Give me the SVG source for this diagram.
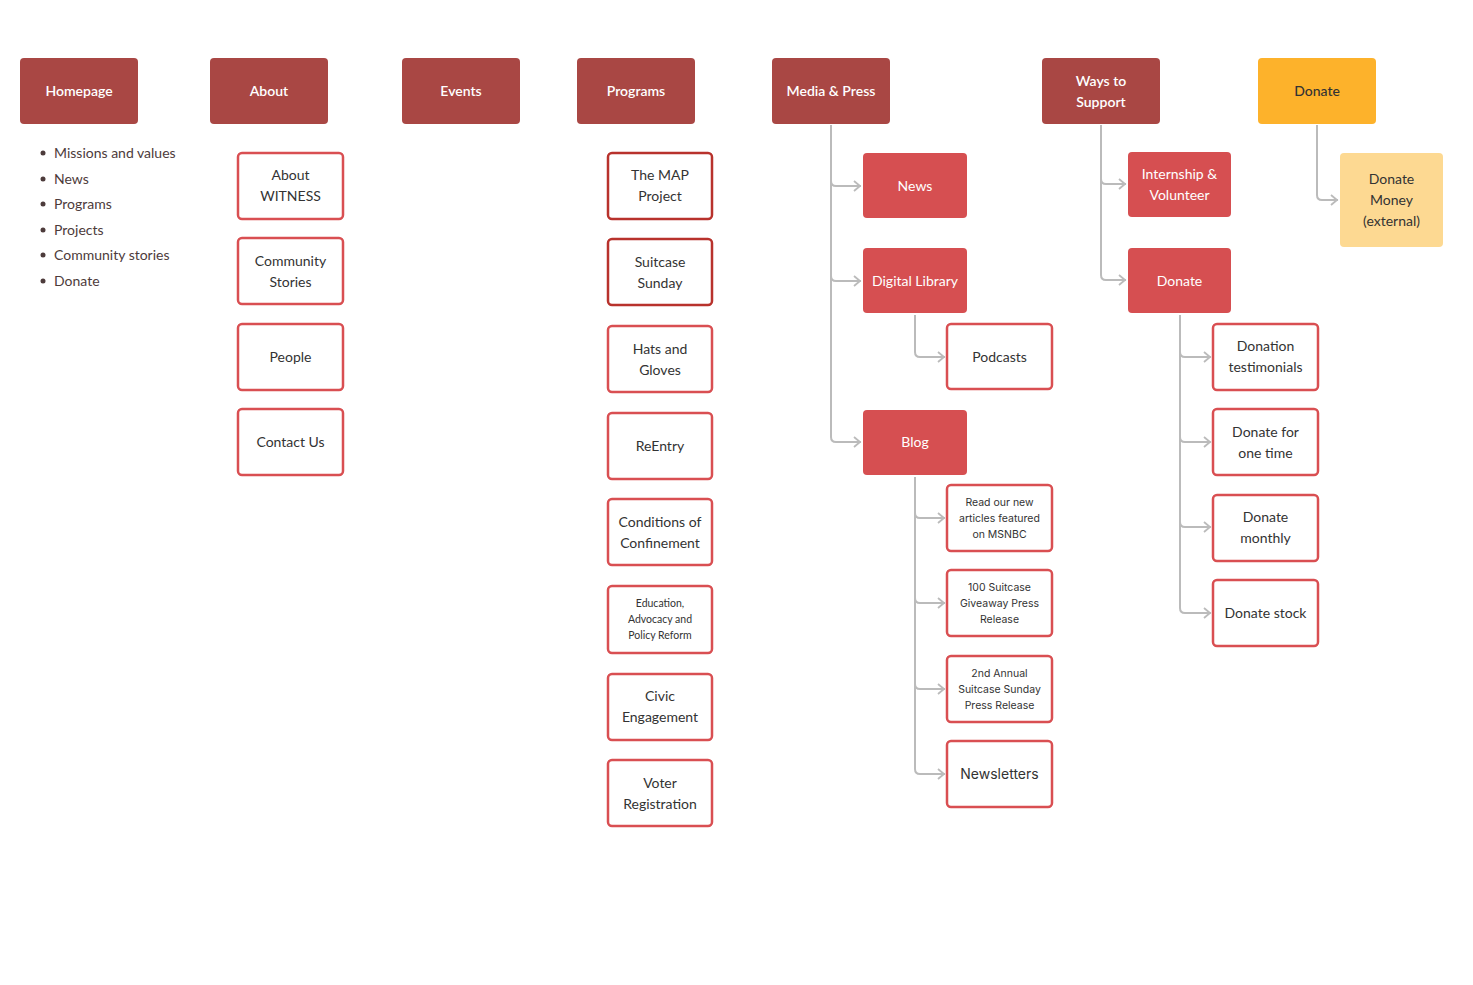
<svg xmlns="http://www.w3.org/2000/svg" width="1473" height="985" viewBox="0 0 1473 985">
<defs>
<style>
.top{fill:#a94744;}
.topt{font-family:Lato,"Liberation Sans",sans-serif;font-size:14px;font-weight:600;fill:#ffffff;text-anchor:middle;}
.sub{fill:#d64f51;}
.subt{font-family:Lato,"Liberation Sans",sans-serif;font-size:14px;fill:#ffffff;text-anchor:middle;}
.box{fill:#ffffff;stroke:#d94f52;stroke-width:2.5;}
.boxd{fill:#ffffff;stroke:#b8322c;stroke-width:2.5;}
.bt{font-family:Lato,"Liberation Sans",sans-serif;font-size:14px;fill:#333333;text-anchor:middle;}
.st{font-family:Lato,"Liberation Sans",sans-serif;font-size:10.5px;fill:#333333;text-anchor:middle;}
.it{font-family:Inter,"Liberation Sans",sans-serif;font-size:10.5px;fill:#333333;text-anchor:middle;}
.bl{font-family:Lato,"Liberation Sans",sans-serif;font-size:14px;fill:#4d3b3b;}
.conn{fill:none;stroke:#bbbbbb;stroke-width:2;}
</style>
<marker id="arr" viewBox="0 0 10 12" refX="9" refY="6" markerWidth="10" markerHeight="12" markerUnits="userSpaceOnUse" orient="auto">
<path d="M2,1 L8,6 L2,11" fill="none" stroke="#bbbbbb" stroke-width="1.8"/>
</marker>
</defs>
<rect width="1473" height="985" fill="#ffffff"/>

<g id="connectors">
<path class="conn" marker-end="url(#arr)" d="M831,125 V181 Q831,186 836,186 H861"/>
<path class="conn" marker-end="url(#arr)" d="M831,125 V276 Q831,281 836,281 H861"/>
<path class="conn" marker-end="url(#arr)" d="M831,125 V437 Q831,442 836,442 H861"/>
<path class="conn" marker-end="url(#arr)" d="M915,315 V352 Q915,357 920,357 H945"/>
<path class="conn" marker-end="url(#arr)" d="M915,477 V513 Q915,518 920,518 H945"/>
<path class="conn" marker-end="url(#arr)" d="M915,477 V598 Q915,603 920,603 H945"/>
<path class="conn" marker-end="url(#arr)" d="M915,477 V684 Q915,689 920,689 H945"/>
<path class="conn" marker-end="url(#arr)" d="M915,477 V769 Q915,774 920,774 H945"/>
<path class="conn" marker-end="url(#arr)" d="M1101,125 V179 Q1101,184 1106,184 H1126"/>
<path class="conn" marker-end="url(#arr)" d="M1101,125 V275 Q1101,280 1106,280 H1126"/>
<path class="conn" marker-end="url(#arr)" d="M1180,315 V352 Q1180,357 1185,357 H1211"/>
<path class="conn" marker-end="url(#arr)" d="M1180,315 V437 Q1180,442 1185,442 H1211"/>
<path class="conn" marker-end="url(#arr)" d="M1180,315 V522 Q1180,527 1185,527 H1211"/>
<path class="conn" marker-end="url(#arr)" d="M1180,315 V608 Q1180,613 1185,613 H1211"/>
<path class="conn" marker-end="url(#arr)" d="M1317,125 V195 Q1317,200 1322,200 H1338"/>
</g>

<g id="homepage"><rect class="top" x="20" y="58" width="118" height="66" rx="4"/><text class="topt" x="79" y="96">Homepage</text></g>
<g id="about"><rect class="top" x="210" y="58" width="118" height="66" rx="4"/><text class="topt" x="269" y="96">About</text></g>
<g id="events"><rect class="top" x="402" y="58" width="118" height="66" rx="4"/><text class="topt" x="461" y="96">Events</text></g>
<g id="programs"><rect class="top" x="577" y="58" width="118" height="66" rx="4"/><text class="topt" x="636" y="96">Programs</text></g>
<g id="media"><rect class="top" x="772" y="58" width="118" height="66" rx="4"/><text class="topt" x="831" y="96">Media &amp; Press</text></g>
<g id="ways"><rect class="top" x="1042" y="58" width="118" height="66" rx="4"/><text class="topt" x="1101" y="86">Ways to</text><text class="topt" x="1101" y="107">Support</text></g>
<g id="donate-top"><rect x="1258" y="58" width="118" height="66" rx="4" fill="#fdb22b"/><text class="topt" x="1317" y="96" style="fill:#333333;font-weight:500">Donate</text></g>

<g id="homepage-list">
<circle cx="43" cy="153" r="2.5" fill="#4d3b3b"/><text class="bl" x="54" y="158">Missions and values</text>
<circle cx="43" cy="179" r="2.5" fill="#4d3b3b"/><text class="bl" x="54" y="184">News</text>
<circle cx="43" cy="204" r="2.5" fill="#4d3b3b"/><text class="bl" x="54" y="209">Programs</text>
<circle cx="43" cy="230" r="2.5" fill="#4d3b3b"/><text class="bl" x="54" y="235">Projects</text>
<circle cx="43" cy="255" r="2.5" fill="#4d3b3b"/><text class="bl" x="54" y="260">Community stories</text>
<circle cx="43" cy="281" r="2.5" fill="#4d3b3b"/><text class="bl" x="54" y="286">Donate</text>
</g>

<g id="about-witness"><rect class="box" x="238" y="153" width="105" height="66" rx="4"/><text class="bt" x="290.5" y="180">About</text><text class="bt" x="290.5" y="201">WITNESS</text></g>
<g id="community-stories"><rect class="box" x="238" y="238" width="105" height="66" rx="4"/><text class="bt" x="290.5" y="266">Community</text><text class="bt" x="290.5" y="287">Stories</text></g>
<g id="people"><rect class="box" x="238" y="324" width="105" height="66" rx="4"/><text class="bt" x="290.5" y="362">People</text></g>
<g id="contact"><rect class="box" x="238" y="409" width="105" height="66" rx="4"/><text class="bt" x="290.5" y="447">Contact Us</text></g>

<g id="map-project"><rect class="boxd" x="608" y="153" width="104" height="66" rx="4"/><text class="bt" x="660" y="180">The MAP</text><text class="bt" x="660" y="201">Project</text></g>
<g id="suitcase-sunday"><rect class="boxd" x="608" y="239" width="104" height="66" rx="4"/><text class="bt" x="660" y="267">Suitcase</text><text class="bt" x="660" y="288">Sunday</text></g>
<g id="hats"><rect class="box" x="608" y="326" width="104" height="66" rx="4"/><text class="bt" x="660" y="354">Hats and</text><text class="bt" x="660" y="375">Gloves</text></g>
<g id="reentry"><rect class="box" x="608" y="413" width="104" height="66" rx="4"/><text class="bt" x="660" y="451">ReEntry</text></g>
<g id="conditions"><rect class="box" x="608" y="499" width="104" height="66" rx="4"/><text class="bt" x="660" y="527">Conditions of</text><text class="bt" x="660" y="548">Confinement</text></g>
<g id="education"><rect class="box" x="608" y="586" width="104" height="67" rx="4"/><text class="st" x="660" y="607">Education,</text><text class="st" x="660" y="623">Advocacy and</text><text class="st" x="660" y="639">Policy Reform</text></g>
<g id="civic"><rect class="box" x="608" y="674" width="104" height="66" rx="4"/><text class="bt" x="660" y="701">Civic</text><text class="bt" x="660" y="722">Engagement</text></g>
<g id="voter"><rect class="box" x="608" y="760" width="104" height="66" rx="4"/><text class="bt" x="660" y="788">Voter</text><text class="bt" x="660" y="809">Registration</text></g>

<g id="news"><rect class="sub" x="863" y="153" width="104" height="65" rx="4"/><text class="subt" x="915" y="191">News</text></g>
<g id="digital-library"><rect class="sub" x="863" y="248" width="104" height="65" rx="4"/><text class="subt" x="915" y="286">Digital Library</text></g>
<g id="podcasts"><rect class="box" x="947" y="324" width="105" height="65" rx="4"/><text class="bt" x="999.5" y="362">Podcasts</text></g>
<g id="blog"><rect class="sub" x="863" y="410" width="104" height="65" rx="4"/><text class="subt" x="915" y="447">Blog</text></g>
<g id="msnbc"><rect class="box" x="947" y="485" width="105" height="66" rx="4"/><text class="it" x="999.5" y="506">Read our new</text><text class="it" x="999.5" y="522">articles featured</text><text class="it" x="999.5" y="538">on MSNBC</text></g>
<g id="giveaway"><rect class="box" x="947" y="570" width="105" height="66" rx="4"/><text class="it" x="999.5" y="591">100 Suitcase</text><text class="it" x="999.5" y="607">Giveaway Press</text><text class="it" x="999.5" y="623">Release</text></g>
<g id="annual"><rect class="box" x="947" y="656" width="105" height="66" rx="4"/><text class="it" x="999.5" y="677">2nd Annual</text><text class="it" x="999.5" y="693">Suitcase Sunday</text><text class="it" x="999.5" y="709">Press Release</text></g>
<g id="newsletters"><rect class="box" x="947" y="741" width="105" height="66" rx="4"/><text class="it" x="999.5" y="779" style="font-size:14px">Newsletters</text></g>

<g id="internship"><rect class="sub" x="1128" y="152" width="103" height="65" rx="4"/><text class="subt" x="1179.5" y="179">Internship &amp;</text><text class="subt" x="1179.5" y="200">Volunteer</text></g>
<g id="donate-sub"><rect class="sub" x="1128" y="248" width="103" height="65" rx="4"/><text class="subt" x="1179.5" y="286">Donate</text></g>
<g id="testimonials"><rect class="box" x="1213" y="324" width="105" height="66" rx="4"/><text class="bt" x="1265.5" y="351">Donation</text><text class="bt" x="1265.5" y="372">testimonials</text></g>
<g id="one-time"><rect class="box" x="1213" y="409" width="105" height="66" rx="4"/><text class="bt" x="1265.5" y="437">Donate for</text><text class="bt" x="1265.5" y="458">one time</text></g>
<g id="monthly"><rect class="box" x="1213" y="495" width="105" height="66" rx="4"/><text class="bt" x="1265.5" y="522">Donate</text><text class="bt" x="1265.5" y="543">monthly</text></g>
<g id="stock"><rect class="box" x="1213" y="580" width="105" height="66" rx="4"/><text class="bt" x="1265.5" y="618">Donate stock</text></g>

<g id="donate-money"><rect x="1340" y="153" width="103" height="94" rx="4" fill="#fdd992"/><text class="bt" x="1391.5" y="184">Donate</text><text class="bt" x="1391.5" y="205">Money</text><text class="bt" x="1391.5" y="226">(external)</text></g>
</svg>
